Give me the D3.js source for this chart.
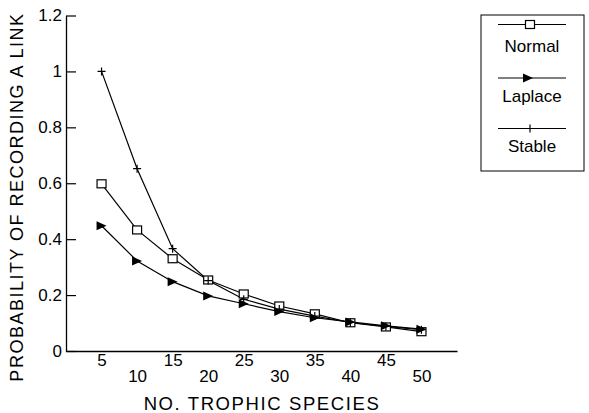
<!DOCTYPE html>
<html><head><meta charset="utf-8">
<script src="https://cdn.jsdelivr.net/npm/d3@7"></script>
<style>body{margin:0;background:#fff}svg{display:block}text{font-family:"Liberation Sans",Arial,sans-serif;fill:#000}</style>
</head><body><svg id="c" width="589" height="413"></svg>
<script>
const species = [5,10,15,20,25,30,35,40,45,50];
const normal  = [0.598,0.433,0.330,0.254,0.204,0.161,0.133,0.101,0.086,0.069];
const laplace = [0.448,0.322,0.248,0.197,0.169,0.141,0.119,0.104,0.090,0.078];
const stable  = [1.0,0.652,0.366,0.252,0.185,0.150,0.125,0.102,0.088,0.076];
const yTicks = [0,0.2,0.4,0.6,0.8,1,1.2];
const xTicks = [5,10,15,20,25,30,35,40,45,50];
const seriesNames = ["Normal","Laplace","Stable"];

const svg = d3.select("#c");
const x = d3.scaleLinear().domain([0,55]).range([66,457]);
const y = d3.scaleLinear().domain([0,1.2]).range([351,15.5]);

// axes
const ya = svg.append("g").attr("transform","translate(66,0)")
  .call(d3.axisLeft(y).tickValues(yTicks).tickFormat(d=>d3.format("~g")(d)).tickSizeInner(-10).tickSizeOuter(0).tickPadding(4));
ya.select(".domain").attr("stroke","#000").attr("stroke-width",1.3);
ya.selectAll(".tick line").attr("stroke","#000").attr("stroke-width",1.2);
ya.selectAll(".tick text").attr("font-size",17).attr("x",-4);

const xa = svg.append("g").attr("transform","translate(0,351)")
  .call(d3.axisBottom(x).tickValues(xTicks).tickSize(0).tickSizeOuter(0).tickPadding(0));
xa.select(".domain").attr("stroke","#000").attr("stroke-width",1.3);
xa.selectAll(".tick text").attr("font-size",17)
  .attr("dy",null)
  .attr("y",(d,i)=> i%2===0 ? 11 : 27)
  .attr("dominant-baseline","middle");

// titles
svg.append("text").attr("x",262).attr("y",405).attr("text-anchor","middle")
  .attr("dominant-baseline","middle").attr("font-size",18.5).attr("letter-spacing",1.6)
  .text("NO. TROPHIC SPECIES");
svg.append("text").attr("transform","translate(18,197) rotate(-90)").attr("text-anchor","middle")
  .attr("dominant-baseline","middle").attr("font-size",18).attr("letter-spacing",1.5)
  .text("PROBABILITY OF RECORDING A LINK");

const line = d3.line().x(d=>x(d[0])).y(d=>y(d[1]));
const all = [normal,laplace,stable].map(v=>species.map((s,i)=>[s,v[i]]));

all.forEach(pts=>{
  svg.append("path").attr("d",line(pts)).attr("fill","none").attr("stroke","#000").attr("stroke-width",1.2);
});

function marker(g,type,cx,cy){
  if(type===0){
    g.append("rect").attr("x",cx-4.5).attr("y",cy-4).attr("width",9).attr("height",8)
      .attr("fill","#fff").attr("stroke","#000").attr("stroke-width",1.2);
  } else if(type===1){
    g.append("path").attr("d",`M${cx-5},${cy-4.5}L${cx+5},${cy}L${cx-5},${cy+4.5}Z`).attr("fill","#000");
  } else {
    g.append("path").attr("d",`M${cx-4},${cy}H${cx+4}M${cx},${cy-4}V${cy+4}`).attr("stroke","#000").attr("stroke-width",1.2);
  }
}
const mg = svg.append("g");
all.forEach((pts,k)=>pts.forEach(p=>marker(mg,k,x(p[0]),y(p[1]))));

// legend
const lg = svg.append("g");
lg.append("rect").attr("x",481).attr("y",15).attr("width",103).attr("height",156)
  .attr("fill","none").attr("stroke","#000").attr("stroke-width",1);
const rowY = [24.5,78,128.5];
const textY = [48,98,148];
seriesNames.forEach((n,k)=>{
  lg.append("line").attr("x1",498).attr("x2",566).attr("y1",rowY[k]).attr("y2",rowY[k]).attr("stroke","#000").attr("stroke-width",1.1);
  marker(lg,k,k===1?528:530,rowY[k]);
  lg.append("text").attr("x",532).attr("y",textY[k]).attr("text-anchor","middle")
    .attr("dominant-baseline","middle").attr("font-size",17).text(n);
});
</script></body></html>
